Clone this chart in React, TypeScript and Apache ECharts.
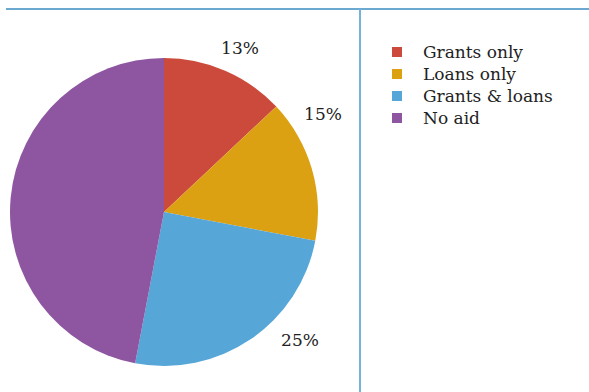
import React, { useEffect, useRef } from "react";
import * as echarts from "echarts";

const categories = ["Grants only", "Loans only", "Grants & loans", "No aid"];
const values = [13, 15, 25, 47];
const colors = ["#cc4a3c", "#dba113", "#56a6d8", "#8e56a0"];
// label anchor positions (pixel), per slice
const labelPos: [number, number][] = [
  [240, 48],
  [323, 114],
  [300, 340],
  [32, 92],
];

const FONT = "DejaVu Serif";

export default function App() {
  const ref = useRef<HTMLDivElement>(null);
  useEffect(() => {
    if (!ref.current) return;
    const chart = echarts.init(ref.current, null, { renderer: "svg" });
    chart.setOption({
      animation: false,
      backgroundColor: "#ffffff",
      color: colors,
      legend: {
        orient: "vertical",
        left: 392,
        top: 41,
        padding: 0,
        icon: "rect",
        itemWidth: 10,
        itemHeight: 10,
        itemGap: 0,
        selectedMode: false,
        data: categories,
        textStyle: {
          fontFamily: FONT,
          fontSize: 17,
          lineHeight: 22,
          color: "#222",
          padding: [0, 0, 0, 16],
        },
      },
      graphic: [
        {
          type: "line",
          shape: { x1: 6, y1: 9, x2: 589, y2: 9 },
          style: { stroke: "#3a8cc2", lineWidth: 1.5 },
        },
        {
          type: "line",
          shape: { x1: 360, y1: 9, x2: 360, y2: 392 },
          style: { stroke: "#74b4d8", lineWidth: 2 },
        },
      ],
      series: [
        {
          type: "pie",
          center: [164, 212],
          radius: [0, 154],
          startAngle: 90,
          clockwise: true,
          data: categories.map((name, i) => ({ name, value: values[i] })),
          label: {
            show: true,
            formatter: "{c}%",
            fontFamily: FONT,
            fontSize: 17,
            color: "#222",
            position: "outside",
          },
          labelLine: { show: false },
          labelLayout: (params: any) => {
            const p = labelPos[params.dataIndex];
            return { x: p[0], y: p[1], align: "center", verticalAlign: "middle" };
          },
          itemStyle: { borderWidth: 0 },
          emphasis: { disabled: true },
        },
      ],
    });
    return () => chart.dispose();
  }, []);
  return (
    <div
      ref={ref}
      style={{ position: "fixed", left: 0, top: 0, width: 589, height: 392 }}
    />
  );
}
